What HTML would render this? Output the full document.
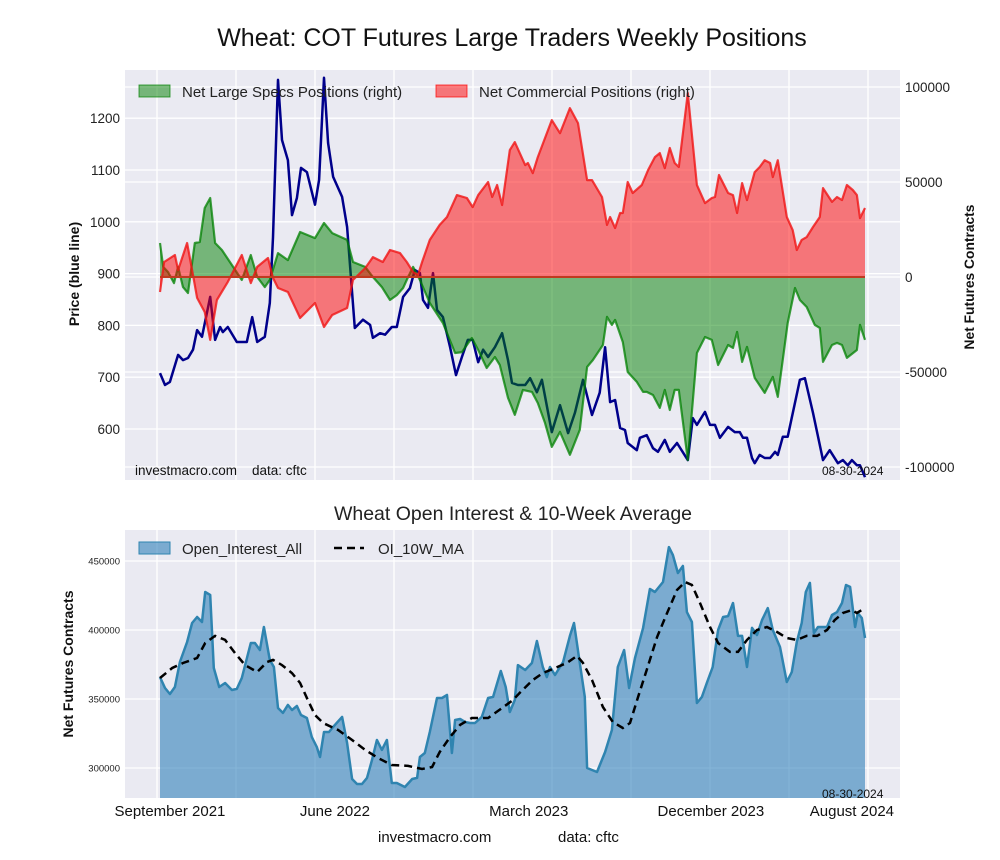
<!DOCTYPE html>
<html><head><meta charset="utf-8"><style>
body{margin:0;background:#fff;}
svg{display:block;font-family:"Liberation Sans",Arial,sans-serif;}
</style></head><body>
<svg id="chart" width="1000" height="860" viewBox="0 0 1000 860">
<defs>
<clipPath id="clipTop"><rect x="125" y="70" width="775" height="410"/></clipPath>
<clipPath id="clipBot"><rect x="125" y="530" width="775" height="268"/></clipPath>
</defs>
<text x="512" y="46" text-anchor="middle" font-size="25" fill="#111">Wheat: COT Futures Large Traders Weekly Positions</text>
<rect x="125" y="70" width="775" height="410" fill="#eaeaf2"/>
<g id="topGrid"></g>
<g id="topMarks" clip-path="url(#clipTop)"></g>
<g id="topAxes"></g>
<text transform="translate(79,274) rotate(-90)" text-anchor="middle" font-size="14" font-weight="bold" fill="#111">Price (blue line)</text>
<text transform="translate(974,277) rotate(-90)" text-anchor="middle" font-size="13.8" font-weight="bold" fill="#111">Net Futures Contracts</text>
<g>
<rect x="139" y="85" width="31" height="12" fill="rgba(0,128,0,0.5)" stroke="rgba(0,128,0,0.7)"/>
<text x="182" y="97" font-size="15" fill="#222">Net Large Specs Positions (right)</text>
<rect x="436" y="85" width="31" height="12" fill="rgba(255,0,0,0.5)" stroke="rgba(255,0,0,0.7)"/>
<text x="479" y="97" font-size="15" fill="#222">Net Commercial Positions (right)</text>
</g>
<text x="135" y="475" font-size="13.5" fill="#111">investmacro.com&#160;&#160;&#160;&#160;data: cftc</text>
<text x="822" y="475" font-size="12" fill="#111">08-30-2024</text>

<text x="513" y="520" text-anchor="middle" font-size="19.5" fill="#222">Wheat Open Interest &amp; 10-Week Average</text>
<rect x="125" y="530" width="775" height="268" fill="#eaeaf2"/>
<g id="botGrid"></g>
<g id="botMarks" clip-path="url(#clipBot)"></g>
<g id="botAxes"></g>
<text transform="translate(73,664) rotate(-90)" text-anchor="middle" font-size="14" font-weight="bold" fill="#111">Net Futures Contracts</text>
<g>
<rect x="139" y="542" width="31" height="12" fill="rgba(31,119,180,0.55)" stroke="#2f84b0"/>
<text x="182" y="554" font-size="15" fill="#222">Open_Interest_All</text>
<line x1="334" y1="548" x2="364" y2="548" stroke="#000" stroke-width="2.5" stroke-dasharray="8,5"/>
<text x="378" y="554" font-size="15" fill="#222">OI_10W_MA</text>
</g>
<text x="822" y="798" font-size="12" fill="#111">08-30-2024</text>
<text x="378" y="842" font-size="15" fill="#111">investmacro.com</text>
<text x="558" y="842" font-size="15" fill="#111">data: cftc</text>
</svg>
<script>
const priceWeeks=[0,1.1,2.2,4.0,5.1,6.2,7.3,8.2,9.3,11.1,
12.2,13.3,13.9,15.0,17.0,19.2,20.4,21.5,23.2,24.3,
25.0,26.1,27.0,28.3,29.2,30.3,31.2,32.5,34.3,35.2,
36.3,37.2,38.3,40.3,41.4,43.1,44.9,46.5,47.1,48.7,
49.8,51.3,52.4,53.8,55.3,56.4,57.5,58.2,59.3,60.4,
61.3,62.6,64.2,65.5,66.8,68.1,69.2,70.4,71.5,72.6,
74.1,75.7,77.0,77.9,79.2,80.8,81.9,83.4,84.5,86.7,
88.5,90.3,91.8,93.6,95.6,97.3,98.5,99.6,100.7,101.8,
102.9,103.5,105.5,106.2,107.7,109.1,110.2,111.7,112.8,114.4,
116.8,117.9,118.8,120.6,121.7,122.8,123.9,125.7,127.2,128.3,
129.0,129.9,131.0,131.6,132.7,133.8,135.0,136.1,136.7,137.8,
138.9,141.6,142.7,144.5,146.7,148.2,150.0,151.1,152.2,153.1,
154.2,154.9,156];
const priceValues=[708,685,691,743,733,737,753,791,778,855,
772,797,787,797,768,768,816,768,778,843,
970,1274,1158,1119,1013,1046,1104,1096,1033,1081,
1278,1152,1087,1048,990,795,811,801,776,785,
782,797,797,855,872,907,901,849,834,901,
830,816,758,704,739,772,772,729,753,739,
758,785,733,689,685,685,698,671,695,594,
646,592,631,695,627,670,758,652,656,602,
598,573,559,583,588,563,556,579,556,573,
540,621,608,633,608,608,583,604,594,594,
583,583,544,534,550,544,544,556,550,585,
585,695,698,631,540,559,534,540,530,540,
530,530,507];
const specsWeeks=[0,0.7,1.8,3.1,4.0,5.1,6.2,7.7,8.8,9.9,
11.1,12.2,13.7,15.9,18.1,20.1,21.5,23.2,24.3,26.1,
28.3,31.0,34.3,36.3,38.1,41.4,42.7,45.4,47.1,49.1,
50.9,52.4,53.8,54.9,56.0,57.5,59.7,62.6,65.3,66.8,
69.0,70.4,72.3,74.1,75.2,77.0,78.5,80.3,82.3,83.6,
85.2,86.7,88.5,90.7,92.9,94.5,95.8,98.0,98.9,100.0,
100.7,102.4,103.5,105.5,106.9,107.7,109.1,110.6,111.7,112.8,
113.9,114.8,116.8,118.8,120.6,122.1,123.5,125.7,126.8,127.7,
128.8,129.9,131.6,133.8,135.6,136.7,138.9,140.5,141.6,143.1,
144.9,146.0,146.7,148.7,149.8,150.9,152.0,154.2,154.9,156];
const specsValues=[17.9,5.3,2.6,-3.2,5.3,-5.3,-8.4,17.9,18.4,36.3,
41.6,17.9,14.2,6.3,-1.6,11.6,0,-5.3,-1.6,12.6,
8.9,23.7,20.5,28.4,23.1,19.5,7.9,5.3,0,-5.3,
-12.1,-9.5,-5.8,0,5.3,-1.6,-13.7,-24.2,-40.0,-39.5,
-32.1,-38.4,-47.9,-42.1,-46.3,-63.6,-72.6,-59.4,-60.5,-66.3,
-76.8,-89.4,-81.5,-93.6,-80.5,-47.3,-43.7,-35.8,-21.0,-25.2,
-22.6,-34.2,-50.0,-55.2,-60.5,-60.5,-62.1,-68.9,-59.4,-70.0,
-59.4,-59.4,-96.3,-40.0,-31.6,-33.1,-46.3,-35.8,-37.3,-28.9,
-44.7,-36.8,-53.1,-61.0,-52.6,-63.1,-24.2,-5.8,-12.1,-15.8,
-25.2,-26.8,-44.7,-35.8,-34.7,-35.8,-42.6,-38.4,-25.2,-33.1];
const commWeeks=[0,0.9,3.3,4.0,6.0,7.3,8.2,9.9,11.1,12.6,
15.0,18.1,20.1,21.5,23.9,25.0,26.1,28.3,31.0,34.3,
36.3,38.1,41.4,42.7,45.4,47.1,49.3,50.9,53.1,54.6,
56.0,57.1,58.0,59.7,61.9,63.5,65.7,67.9,69.2,70.4,
72.6,73.5,74.6,75.7,77.4,78.5,80.8,81.4,82.5,83.6,
86.7,88.5,90.7,92.5,94.5,95.6,97.8,98.9,99.6,100.7,
101.8,102.4,103.5,104.6,106.6,108.0,109.5,110.6,111.7,112.8,
113.9,114.8,116.8,118.8,120.6,122.1,122.8,123.7,125.7,126.8,
127.7,128.8,129.9,131.6,132.7,133.8,135.0,135.6,136.7,138.7,
140.0,140.9,142.0,143.1,144.5,146.0,146.7,148.7,149.8,150.9,
152.0,153.3,154.2,154.9,156];
const commValues=[-7.9,7.9,11.6,3.7,17.9,1.1,-11.0,-18.4,-33.1,-12.1,
-2.6,11.6,-3.2,5.3,10.0,-0.5,-5.8,-7.9,-21.6,-13.7,
-26.3,-20.0,-16.3,-1.6,4.7,10.5,7.9,14.2,12.6,7.9,
2.6,1.1,7.9,19.5,27.4,31.6,43.1,41.6,36.8,43.1,
50.0,42.1,48.4,37.9,66.8,71.0,58.9,60.0,54.7,63.1,
82.6,75.7,88.9,81.0,51.0,51.0,42.1,27.4,31.6,25.8,
33.7,33.7,50.0,44.2,48.4,56.3,63.1,65.2,57.3,67.9,
60.0,57.9,96.8,48.4,38.9,41.6,42.1,53.7,44.2,43.1,
33.7,49.4,40.5,55.2,57.9,61.5,60.0,52.6,61.5,31.6,
24.7,14.2,19.5,21.0,26.3,31.6,46.8,39.5,42.1,40.5,
48.4,45.8,43.1,31.0,36.3];
const oiWeeks=[0,1.1,2.2,3.3,4.4,6.0,7.1,8.2,9.3,10.0,
11.1,11.9,13.1,14.4,15.9,17.0,18.1,20.1,21.0,22.1,
23.0,24.3,25.2,26.1,27.2,28.3,29.2,30.3,31.2,32.5,
33.6,34.7,35.4,36.3,37.4,38.3,40.3,41.4,42.5,43.6,
44.7,45.8,46.9,48.0,49.1,50.2,51.3,52.4,54.2,55.8,
56.9,57.5,58.6,59.7,61.3,62.4,63.5,64.6,65.3,66.4,
67.5,68.6,69.7,71.2,72.6,73.7,75.4,76.5,77.4,78.5,
79.2,80.8,82.3,83.4,84.7,85.6,86.3,87.4,89.2,90.7,
91.6,92.9,94.0,94.5,96.7,98.5,100.0,101.3,102.7,103.8,
105.1,106.9,108.4,109.5,111.3,112.6,113.5,114.6,115.7,116.6,
117.7,118.8,119.9,121.0,122.3,123.5,124.6,125.7,126.8,127.9,
128.8,129.9,131.0,132.1,133.2,134.5,135.6,137.2,138.7,139.8,
140.9,142.0,142.9,143.8,144.7,145.6,147.6,148.7,149.8,150.9,
151.8,152.7,153.8,154.4,155.3,156];
const oiValues=[365.9,358.0,353.6,358.7,376.8,391.3,405.1,409.4,405.8,427.5,
425.4,372.5,358.7,361.6,356.5,357.3,365.2,390.6,390.6,385.5,
402.2,378.3,373.2,343.5,339.9,345.7,342.0,344.9,338.4,336.2,
322.5,315.2,308.0,326.1,326.1,329.7,337.0,318.1,292.0,288.4,
288.4,292.8,305.8,320.3,313.1,320.3,289.1,289.1,286.2,292.0,
292.8,308.0,310.9,326.1,350.7,350.7,352.9,310.9,334.8,335.5,
333.3,332.6,332.6,337.0,350.7,351.5,370.3,358.7,340.6,349.3,
374.6,371.0,376.1,392.0,373.2,365.9,373.2,367.4,376.8,395.7,
405.1,376.1,351.5,300.0,297.1,311.6,327.5,373.2,385.5,358.0,
379.7,401.5,429.7,427.5,434.8,460.1,454.3,441.3,446.4,413.0,
405.8,347.1,351.5,361.6,373.2,400.0,409.4,410.1,419.6,395.7,
395.7,373.2,401.5,396.4,407.2,415.9,400.0,387.7,362.3,369.6,
391.3,405.1,427.5,434.1,397.8,402.2,402.2,410.9,413.0,419.6,
432.6,431.2,402.2,412.3,408.7,394.2];
const maWeeks=[0,2.7,5.1,8.2,10.0,12.2,14.4,16.6,18.8,21.5,
23.7,25.0,27.0,29.2,31.0,32.7,34.3,36.1,39.4,42.5,
45.4,48.2,51.3,54.9,58.0,60.2,61.9,64.2,66.4,69.0,
72.6,75.7,78.1,79.6,82.5,84.7,87.4,90.0,92.3,93.6,
95.6,98.0,100.2,102.4,104.0,105.8,107.7,110.0,112.2,114.4,
116.2,117.7,119.5,121.7,123.5,126.1,127.9,129.9,132.1,134.3,
136.5,138.7,140.9,143.1,145.4,147.6,149.3,151.1,153.1,154.2,
155.3];
const maValues=[365.2,372.5,376.1,379.7,390.6,395.7,392.8,383.3,374.6,369.6,
376.8,378.3,374.6,368.8,361.6,349.3,338.4,332.6,327.5,320.3,
313.1,307.3,302.2,301.5,299.3,300.7,311.6,322.5,331.2,336.2,
336.2,343.5,349.3,354.4,363.8,368.8,372.5,376.1,381.2,376.1,
363.8,344.2,333.3,329.0,332.6,351.5,371.0,394.9,412.3,429.0,
434.8,432.6,419.6,402.2,390.6,384.1,384.1,392.8,400.0,402.2,
398.6,394.2,392.8,395.7,395.7,400.0,407.2,412.3,414.5,412.3,
414.5];
const priceTicks=[600,700,800,900,1000,1100,1200];
const netTicks=[-100000,-50000,0,50000,100000];
const oiTicks=[300000,350000,400000,450000];
const xTickWeeks=[2.2,38.7,81.6,121.9,153.1];
const xTickLabels=["September 2021","June 2022","March 2023","December 2023","August 2024"];

const NS="http://www.w3.org/2000/svg";
const xW=w=>160+w*705/156;
const yP=p=>429-(p-600)*0.518;
const yN=k=>277-k*1.9;
const yO=k=>561-(k-450)*1.38;
function mk(tag,attrs,parent){const e=document.createElementNS(NS,tag);for(const k in attrs)e.setAttribute(k,attrs[k]);parent.appendChild(e);return e;}
function linePath(ws,vs,fy){const n=Math.min(ws.length,vs.length);let d="";for(let i=0;i<n;i++)d+=(i?"L":"M")+xW(ws[i]).toFixed(1)+","+fy(vs[i]).toFixed(1);return d;}
function areaPath(ws,vs,fy,base){const n=Math.min(ws.length,vs.length);return linePath(ws,vs,fy)+"L"+xW(ws[n-1]).toFixed(1)+","+base+"L"+xW(ws[0]).toFixed(1)+","+base+"Z";}

const tg=document.getElementById('topGrid'),tm=document.getElementById('topMarks'),ta=document.getElementById('topAxes');
const bg=document.getElementById('botGrid'),bm=document.getElementById('botMarks'),ba=document.getElementById('botAxes');
for(let k=0;k<10;k++){const x=157+k*79;
 const g1=mk('line',{x1:x,y1:70,x2:x,y2:480,stroke:'#fff','stroke-width':1.3},tg);
 
 
 const g2=mk('line',{x1:x,y1:530,x2:x,y2:798,stroke:'#fff','stroke-width':1.3},bg);
 
 }
priceTicks.forEach(p=>{const y=yP(p);
 const l=mk('line',{x1:125,y1:y,x2:900,y2:y,stroke:'#fff','stroke-width':1.3},tg);
 
 
 const t=mk('text',{x:120,y:y+5,'text-anchor':'end','font-size':13.5,fill:'#222'},ta);t.textContent=p;
 
 });
netTicks.forEach(v=>{const y=yN(v/1000);
 const l=mk('line',{x1:125,y1:y,x2:900,y2:y,stroke:'#fff','stroke-width':1.3},tg);
 
 
 const t=mk('text',{x:905,y:y+5,'font-size':13.5,fill:'#222'},ta);t.textContent=v;
 
 });
oiTicks.forEach(v=>{const y=yO(v/1000);
 const l=mk('line',{x1:125,y1:y,x2:900,y2:y,stroke:'#fff','stroke-width':1.3},bg);
 
 
 const t=mk('text',{x:120,y:y+3.5,'text-anchor':'end','font-size':9.5,fill:'#222'},ba);t.textContent=v;
 
 });
xTickWeeks.forEach((w,i)=>{const t=mk('text',{x:xW(w),y:816,'text-anchor':'middle','font-size':15,fill:'#111'},ba);t.textContent=xTickLabels[i];
 
 });

const pl=mk('path',{d:linePath(priceWeeks,priceValues,yP),fill:'none',stroke:'#00008b','stroke-width':2.5,'stroke-linejoin':'round'},tm);


const ga=mk('path',{d:areaPath(specsWeeks,specsValues,yN,yN(0)),fill:'rgba(0,128,0,0.5)',stroke:'none'},tm);


const gl=mk('path',{d:linePath(specsWeeks,specsValues,yN),fill:'none',stroke:'rgba(0,128,0,0.75)','stroke-width':2.2,'stroke-linejoin':'round'},tm);


const ra=mk('path',{d:areaPath(commWeeks,commValues,yN,yN(0)),fill:'rgba(255,0,0,0.5)',stroke:'none'},tm);


const rl=mk('path',{d:linePath(commWeeks,commValues,yN),fill:'none',stroke:'rgba(240,20,20,0.8)','stroke-width':2.2,'stroke-linejoin':'round'},tm);


const zl=mk('line',{x1:xW(0),y1:yN(0),x2:xW(156),y2:yN(0),stroke:'#c03a20','stroke-width':2},tm);



const oa=mk('path',{d:areaPath(oiWeeks,oiValues,yO,800),fill:'rgba(31,119,180,0.55)',stroke:'none'},bm);


const ol=mk('path',{d:linePath(oiWeeks,oiValues,yO),fill:'none',stroke:'#2f84b0','stroke-width':2.5,'stroke-linejoin':'round'},bm);


const ml=mk('path',{d:linePath(maWeeks,maValues,yO),fill:'none',stroke:'#000','stroke-width':2.5,'stroke-dasharray':'8,5'},bm);


</script>
</body></html>
